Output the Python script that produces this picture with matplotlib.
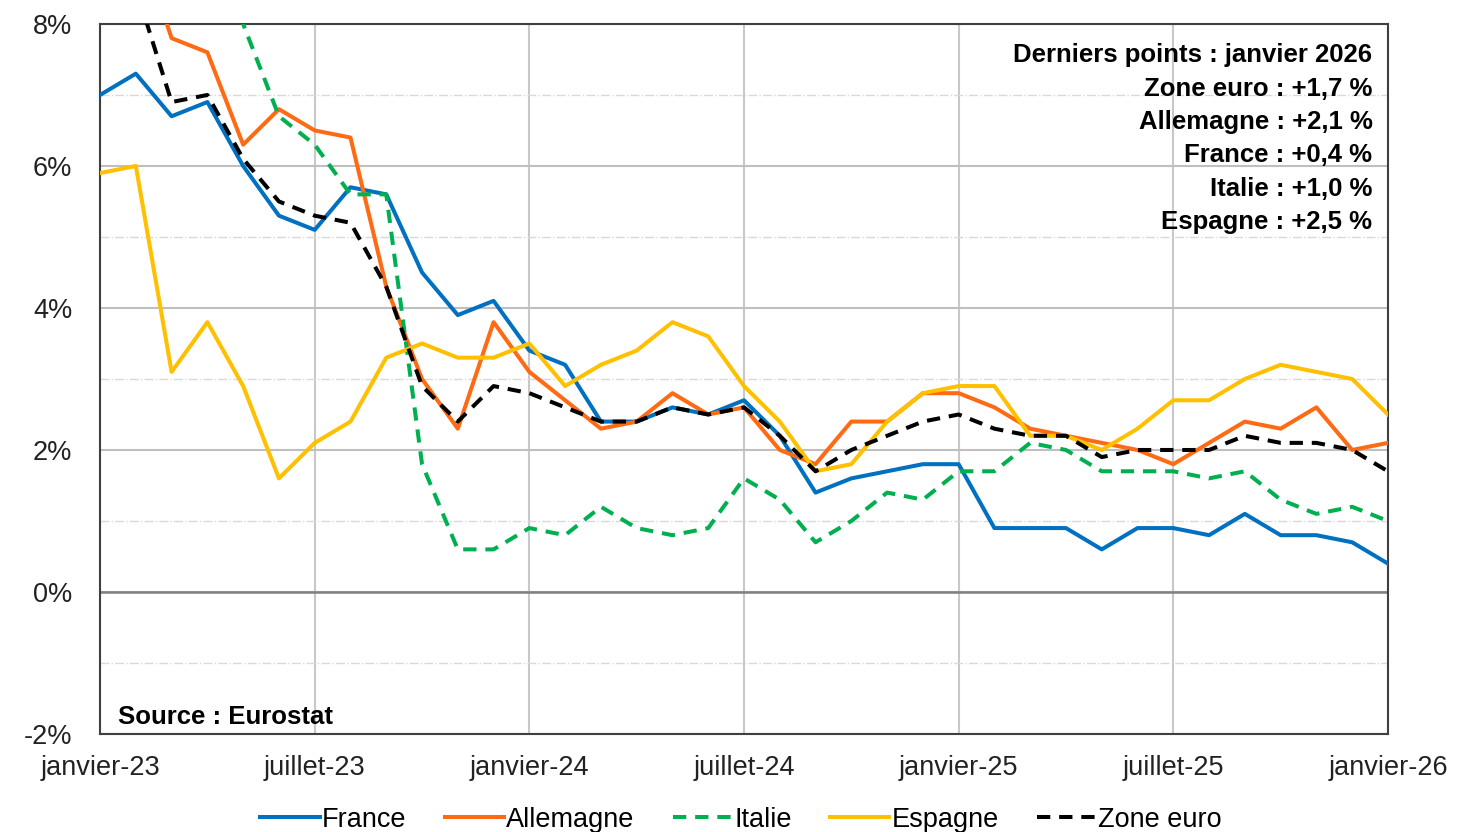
import numpy as np
import matplotlib.pyplot as plt
from matplotlib.ticker import MultipleLocator

plt.rcParams['font.family'] = ['Liberation Sans', 'DejaVu Sans']

# mois de janvier-23 a janvier-26
mois = list(range(37))
tick_pos = [0, 6, 12, 18, 24, 30, 36]
tick_labels = ["janvier-23", "juillet-23", "janvier-24", "juillet-24",
               "janvier-25", "juillet-25", "janvier-26"]

france = [7.0, 7.3, 6.7, 6.9, 6.0, 5.3, 5.1, 5.7, 5.6, 4.5, 3.9, 4.1,
          3.4, 3.2, 2.4, 2.4, 2.6, 2.5, 2.7, 2.2, 1.4, 1.6, 1.7, 1.8,
          1.8, 0.9, 0.9, 0.9, 0.6, 0.9, 0.9, 0.8, 1.1, 0.8, 0.8, 0.7, 0.4]
allemagne = [9.2, 9.3, 7.8, 7.6, 6.3, 6.8, 6.5, 6.4, 4.3, 3.0, 2.3, 3.8,
             3.1, 2.7, 2.3, 2.4, 2.8, 2.5, 2.6, 2.0, 1.8, 2.4, 2.4, 2.8,
             2.8, 2.6, 2.3, 2.2, 2.1, 2.0, 1.8, 2.1, 2.4, 2.3, 2.6, 2.0, 2.1]
italie = [10.7, 9.8, 8.1, 8.7, 8.0, 6.7, 6.3, 5.6, 5.6, 1.8, 0.6, 0.6,
          0.9, 0.8, 1.2, 0.9, 0.8, 0.9, 1.6, 1.3, 0.7, 1.0, 1.4, 1.3,
          1.7, 1.7, 2.1, 2.0, 1.7, 1.7, 1.7, 1.6, 1.7, 1.3, 1.1, 1.2, 1.0]
espagne = [5.9, 6.0, 3.1, 3.8, 2.9, 1.6, 2.1, 2.4, 3.3, 3.5, 3.3, 3.3,
           3.5, 2.9, 3.2, 3.4, 3.8, 3.6, 2.9, 2.4, 1.7, 1.8, 2.4, 2.8,
           2.9, 2.9, 2.2, 2.2, 2.0, 2.3, 2.7, 2.7, 3.0, 3.2, 3.1, 3.0, 2.5]
zone_euro = [8.6, 8.5, 6.9, 7.0, 6.1, 5.5, 5.3, 5.2, 4.3, 2.9, 2.4, 2.9,
             2.8, 2.6, 2.4, 2.4, 2.6, 2.5, 2.6, 2.2, 1.7, 2.0, 2.2, 2.4,
             2.5, 2.3, 2.2, 2.2, 1.9, 2.0, 2.0, 2.0, 2.2, 2.1, 2.1, 2.0, 1.7]

encadre = ["Derniers points : janvier 2026", "Zone euro : +1,7 %",
           "Allemagne : +2,1 %", "France : +0,4 %", "Italie : +1,0 %",
           "Espagne : +2,5 %"]

fig = plt.figure(figsize=(14.65, 8.32), dpi=100)
ax = fig.add_axes([0.0683, 0.1178, 0.8791, 0.8534])

lw = 2.9
ax.plot(mois, france, color="#0070C0", lw=lw, label="France", zorder=3)
ax.plot(mois, allemagne, color="#FF6A13", lw=lw, label="Allemagne", zorder=3)
ax.plot(mois, italie, color="#00B050", lw=lw, ls=(0, (3.3, 2.2)), label="Italie", zorder=3)
ax.plot(mois, espagne, color="#FFC000", lw=lw, label="Espagne", zorder=3)
ax.plot(mois, zone_euro, color="black", lw=lw, ls=(0, (3.3, 2.2)), label="Zone euro", zorder=4)

ax.set_xlim(0, 36)
ax.set_ylim(-2, 8)
ax.set_xticks(tick_pos)
ax.set_xticklabels(tick_labels)
ax.yaxis.set_minor_locator(MultipleLocator(1))
ax.set_yticks(np.arange(-2, 9, 2))
ax.set_yticklabels([f"{v}%" for v in range(-2, 9, 2)])
ax.tick_params(axis="both", which="both", length=0, labelsize=19.5, colors="#222222")
ax.tick_params(axis="x", pad=15)
ax.tick_params(axis="y", pad=20)

ax.grid(True, axis="y", which="major", color="#BFBFBF", lw=1.5)
ax.grid(True, axis="y", which="minor", color="#D9D9D9", lw=1, ls="-.")
ax.grid(True, axis="x", which="major", color="#C8C8C8", lw=1.5)
ax.axhline(0, color="#808080", lw=1.8, zorder=2)
for s in ax.spines.values():
    s.set_color("#404040")
    s.set_linewidth(1.5)

ax.text(0.014, 0.014, "Source : Eurostat", transform=ax.transAxes,
        fontsize=18.5, fontweight="bold", ha="left", va="baseline")
for i, ligne in enumerate(encadre):
    ax.text(0.988, 0.956 - i * 0.047, ligne, transform=ax.transAxes,
            fontsize=18.5, fontweight="bold", ha="right", va="center")

fig.legend(loc="center", bbox_to_anchor=(0.506, 0.015), ncol=5,
           frameon=False, fontsize=19.5, handlelength=2.2, handletextpad=0.08,
           columnspacing=1.4)

fig.savefig("out.png", dpi=100)
